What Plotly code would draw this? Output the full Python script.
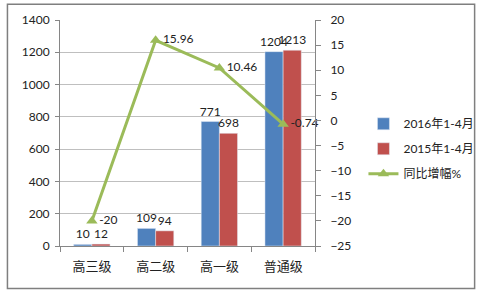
import plotly.graph_objects as go

categories = ["高三级", "高二级", "高一级", "普通级"]
v2016 = [10, 109, 771, 1204]
v2015 = [12, 94, 698, 1213]
growth = [-20, 15.96, 10.46, -0.74]
growth_labels = ["-20", "15.96", "10.46", "-0.74"]

FONT = "Lato, 'Noto Sans CJK SC', sans-serif"
blue, red, green = "#4F81BD", "#C0504D", "#9BBB59"

fig = go.Figure()
fig.add_trace(go.Bar(x=categories, y=v2016, name="2016年1-4月", marker_color=blue,
                     text=[str(v) for v in v2016], textposition="outside",
                     constraintext="none", cliponaxis=False,
                     textfont=dict(size=12, color="#222"), legendgroup="a"))
fig.add_trace(go.Bar(x=categories, y=v2015, name="2015年1-4月", marker_color=red,
                     text=[str(v) for v in v2015], textposition="outside",
                     constraintext="none", cliponaxis=False,
                     textfont=dict(size=12, color="#222"), legendgroup="b"))
fig.add_trace(go.Scatter(x=categories, y=growth, name="同比增幅%", yaxis="y2",
                         mode="lines+markers+text", line=dict(color=green, width=3),
                         marker=dict(symbol="triangle-up", size=10, color=green),
                         text=growth_labels,
                         textposition="middle right",
                         textfont=dict(size=12, color="#222"), cliponaxis=False,
                         legendgroup="c"))

fig.update_layout(
    width=492, height=294,
    margin=dict(l=60, r=170, t=18, b=48),
    paper_bgcolor="white", plot_bgcolor="white",
    font=dict(family=FONT, size=12, color="#222"),
    barmode="group", bargap=0.43, bargroupgap=0,
    showlegend=True,
    legend=dict(x=1.19, y=0.605, xanchor="left", yanchor="top",
                font=dict(size=12, family=FONT), tracegroupgap=6,
                bgcolor="rgba(0,0,0,0)", itemwidth=30),
    xaxis=dict(showline=True, linecolor="#868686", ticks="outside", tickcolor="#868686",
               ticklen=5, tickson="boundaries", showgrid=False,
               tickfont=dict(size=13), ticklabelstandoff=8),
    yaxis=dict(range=[0, 1400], dtick=200, showline=True, linecolor="#868686",
               ticks="outside", tickcolor="#868686", ticklen=4,
               gridcolor="#BFBFBF", gridwidth=1, zeroline=False,
               tickfont=dict(size=12), ticklabelstandoff=3),
    yaxis2=dict(range=[-25, 20], dtick=5, overlaying="y", side="right",
                showline=True, linecolor="#868686", ticks="outside", tickcolor="#868686",
                ticklen=5, showgrid=False, zeroline=False, tickfont=dict(size=12),
                ticklabelstandoff=7),
)
fig.add_shape(type="rect", xref="paper", yref="paper",
              x0=-54/262, x1=426/262, y0=-43/228, y1=244/228,
              line=dict(color="#7F7F7F", width=1.5), layer="below")

fig.write_html("out.html")
